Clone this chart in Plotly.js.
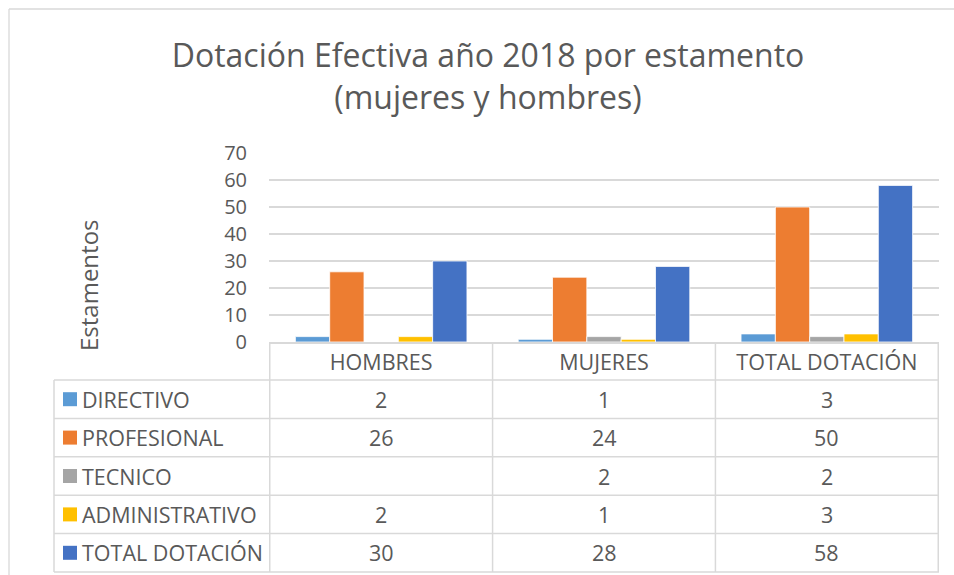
<!DOCTYPE html>
<html>
<head>
<meta charset="utf-8">
<script src="https://cdn.plot.ly/plotly-3.0.1.min.js"></script>
<style>html,body{margin:0;padding:0;background:#fff;}#chart{width:954px;height:575px;}</style>
</head>
<body>
<div id="chart"></div>
<script>
// ---- data ----
const categories = ['HOMBRES', 'MUJERES', 'TOTAL DOTACIÓN'];
const seriesNames = ['DIRECTIVO', 'PROFESIONAL', 'TECNICO', 'ADMINISTRATIVO', 'TOTAL DOTACIÓN'];
const directivo = [2, 1, 3];
const profesional = [26, 24, 50];
const tecnico = [null, 2, 2];
const administrativo = [2, 1, 3];
const totalDotacion = [30, 28, 58];
const seriesColors = ['#5B9BD5', '#ED7D31', '#A5A5A5', '#FFC000', '#4472C4'];
const yTicks = [0, 10, 20, 30, 40, 50, 60, 70];

const seriesValues = [directivo, profesional, tecnico, administrativo, totalDotacion];

// ---- geometry helpers (pixels -> paper) ----
const W = 954, H = 575;
const px = x => x / W;
const py = y => 1 - y / H;

const FONT = 'Open Sans, Noto Sans, sans-serif';
const TXT = '#595959';
const LINE = '#d9d9d9';

const plotLeft = 269, plotRight = 939, plotTop = 153, plotBottom = 342;
const tableTop = 380, rowH = 38.4, tableLeft = 54;

const traces = seriesNames.map((name, i) => ({
  type: 'bar',
  name: name,
  x: categories,
  y: seriesValues[i],
  marker: {color: seriesColors[i], line: {color: '#ffffff', width: 0.8}},
  showlegend: false,
  hoverinfo: 'x+y+name'
}));

const shapes = [];
const annotations = [];

// outer frame
shapes.push({type: 'line', xref: 'paper', yref: 'paper', x0: px(9), x1: 1, y0: py(9), y1: py(9), line: {color: LINE, width: 1.3}});
shapes.push({type: 'line', xref: 'paper', yref: 'paper', x0: px(9), x1: px(9), y0: py(9), y1: 0, line: {color: LINE, width: 1.3}});

// table horizontal lines
for (let r = 0; r <= seriesNames.length; r++) {
  const y = tableTop + r * rowH;
  shapes.push({type: 'line', xref: 'paper', yref: 'paper', x0: px(tableLeft), x1: px(plotRight), y0: py(y), y1: py(y), line: {color: LINE, width: 1.5}});
}
// left border of table
shapes.push({type: 'line', xref: 'paper', yref: 'paper', x0: px(tableLeft), x1: px(tableLeft), y0: py(tableTop), y1: py(tableTop + seriesNames.length * rowH), line: {color: LINE, width: 1.5}});
// column boundaries at category edges (data coords)
for (let c = 0; c <= categories.length; c++) {
  shapes.push({type: 'line', xref: 'x', yref: 'paper', x0: c - 0.5, x1: c - 0.5, y0: py(plotBottom), y1: py(tableTop + seriesNames.length * rowH), line: {color: LINE, width: 1.5}});
}

// table rows: legend key + label + values
seriesNames.forEach((name, r) => {
  const yc = tableTop + (r + 0.5) * rowH;
  shapes.push({type: 'rect', xref: 'paper', yref: 'paper', x0: px(63), x1: px(77), y0: py(yc - 7), y1: py(yc + 7), fillcolor: seriesColors[r], line: {width: 0}});
  annotations.push({xref: 'paper', yref: 'paper', x: px(80), y: py(yc), xanchor: 'left', yanchor: 'middle', showarrow: false, text: name, font: {family: FONT, size: 21.5, color: TXT}});
  seriesValues[r].forEach((v, c) => {
    if (v === null || v === undefined) return;
    annotations.push({xref: 'x', yref: 'paper', x: c, y: py(yc), xanchor: 'center', yanchor: 'middle', showarrow: false, text: String(v), font: {family: FONT, size: 21.5, color: TXT}});
  });
});

// y-axis title (offset position as in the reference)
annotations.push({xref: 'paper', yref: 'paper', x: px(88), y: py(285), xanchor: 'center', yanchor: 'middle', textangle: -90, showarrow: false, text: 'Estamentos', font: {family: FONT, size: 24, color: TXT}});

const layout = {
  width: W, height: H,
  margin: {l: 0, r: 0, t: 0, b: 0},
  paper_bgcolor: '#ffffff', plot_bgcolor: '#ffffff',
  font: {family: FONT, color: TXT},
  title: {
    text: 'Dotación Efectiva año 2018 por estamento<br>(mujeres y hombres)',
    font: {family: FONT, size: 32, color: TXT},
    x: px(488), xanchor: 'center', xref: 'paper',
    y: py(67), yanchor: 'top', yref: 'container'
  },
  barmode: 'group',
  bargap: 0.23,
  bargroupgap: 0,
  xaxis: {
    domain: [px(plotLeft), px(plotRight)],
    type: 'category',
    showgrid: false, showline: true, linecolor: LINE, linewidth: 1.5,
    ticks: '', ticklabelstandoff: 1,
    tickfont: {family: FONT, size: 21.5, color: TXT},
    fixedrange: true
  },
  yaxis: {
    domain: [py(plotBottom), py(plotTop)],
    range: [0, 70],
    tickvals: yTicks,
    ticktext: yTicks.map(String),
    showgrid: true, gridcolor: LINE, gridwidth: 1.5,
    zeroline: false, showline: false, ticks: '',
    ticklabelstandoff: 21,
    tickfont: {family: FONT, size: 20, color: TXT},
    title: {text: ''},
    fixedrange: true
  },
  shapes: shapes,
  annotations: annotations,
  showlegend: false
};

Plotly.newPlot('chart', traces, layout, {displayModeBar: false, staticPlot: true});
</script>
</body>
</html>
